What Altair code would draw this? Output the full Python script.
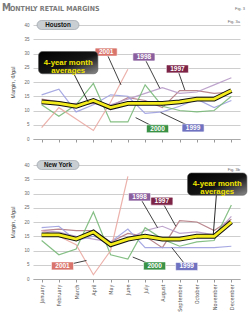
import altair as alt
import pandas as pd

MONTHS = ["January", "February", "March", "April", "May", "June", "July",
          "August", "September", "October", "November", "December"]
YEARS = ["1997", "1998", "1999", "2000", "2001"]

# Houston margins, cents/gal
HOU_1997 = [14, 13, 12, 12.5, 11.5, 14.5, 13.5, 11, 17, 17, 16, 16.5]
HOU_1998 = [13, 12, 12.5, 13, 12, 14, 16, 18, 16, 16.5, 19, 21.5]
HOU_1999 = [15.5, 17.5, 9.5, 12, 15.5, 15, 9, 9.5, 11.5, 14, 11, 13.5]
HOU_2000 = [12, 8, 12, 19.5, 6, 6, 19, 11.5, 10, 9.5, 10, 15]
HOU_2001 = [4, 11, 7, 3, 13, 24.5]
HOU_AVG = [13, 12.5, 11.5, 13.5, 11, 12.5, 12.5, 12.5, 13, 14, 14, 17]

# New York margins, cents/gal
NY_1997 = [17, 17.5, 17, 17, 13, 16, 15, 11, 20.5, 20, 17, 21]
NY_1998 = [17, 16.5, 15, 14, 13, 14, 17, 18.5, 16, 16.5, 15.5, 22]
NY_1999 = [18, 18.5, 13.5, 15, 13, 17.5, 11, 11, 11, 11, 11, 11.5]
NY_2000 = [13.5, 8.5, 10.5, 23.5, 8.5, 7, 18, 14, 11.5, 13, 13.5, 26]
NY_2001 = [17, 15, 12, 1.5, 10, 36]
NY_AVG = [15.5, 15.5, 14, 16.5, 12, 14, 15, 14, 14, 15, 15, 20]

LINE_COLORS = ["#b27a82", "#b79ac8", "#9da0e0", "#78b878", "#eaa9a2"]
BOX_COLORS = {"1997": "#7c2346", "1998": "#8b5f9e", "1999": "#6f72c0",
              "2000": "#3a9247", "2001": "#d8746b"}

# annotation anchors (month index, value) -> label centre and pointer end
HOU_LABELS = [("2001", 3.74, 30.5, 4.6, 19.0), ("1998", 5.93, 28.8, 6.85, 17.8),
              ("1997", 7.87, 24.6, 8.3, 17.2), ("2000", 6.72, 3.6, 5.45, 7.5),
              ("1999", 8.78, 3.9, 6.9, 9.3)]
NY_LABELS = [("2001", 1.21, 4.6, 2.6, 6.5), ("1998", 5.68, 28.8, 6.72, 18.0),
             ("1997", 6.97, 27.3, 7.78, 18.5), ("2000", 6.55, 4.6, 5.28, 7.7),
             ("1999", 8.41, 4.4, 7.55, 11.0)]
HOU_CALLOUT = (1.54, 26.8, 2.7, 13.0)
NY_CALLOUT = (10.18, 33.3, 9.95, 15.5)

NARROW = "Liberation Sans Narrow, DejaVu Sans Condensed, sans-serif"
SANS = "Liberation Sans, Arial, sans-serif"

xscale = alt.Scale(domain=[-0.5, 11.5], nice=False, zero=False)
yscale = alt.Scale(domain=[0, 40], nice=False)
label_expr = "[" + ",".join("'%s'" % m for m in MONTHS) + "][datum.value]"

xaxis_top = alt.Axis(values=list(range(12)), labels=False, ticks=True, tickSize=3,
                     tickColor="#999999", domain=True, domainColor="#aaaaaa",
                     grid=False, title=None)
xaxis_bottom = alt.Axis(values=list(range(12)), labelExpr=label_expr, labelAngle=270,
                        labelFontSize=5.5, labelFont=NARROW, labelColor="#555555",
                        labelPadding=2, ticks=True, tickSize=3, tickColor="#999999",
                        domain=True, domainColor="#aaaaaa", grid=False, title=None)
yaxis = alt.Axis(values=list(range(0, 41, 5)), grid=True, gridColor="#c8c8c8",
                 gridWidth=0.9, domain=False, ticks=False, labelFontSize=4.5,
                 labelFont=SANS, labelColor="#666666", labelPadding=4,
                 title="Margin, ¢/gal", titleFontSize=5.5, titleFont=SANS,
                 titleFontWeight="normal", titleColor="#444444", titlePadding=8)

HW_BOX, HH_BOX = 0.64, 1.4


def panel(series, avg, labels, callout, city, fig, xaxis, top):
    rows = []
    for y, vals in zip(YEARS, series):
        for i, v in enumerate(vals):
            rows.append({"year": y, "m": i, "v": v})
    df = pd.DataFrame(rows)
    adf = pd.DataFrame({"m": list(range(12)), "v": avg})

    X = lambda f: alt.X(f"{f}:Q", scale=xscale, axis=xaxis)
    Y = lambda f: alt.Y(f"{f}:Q", scale=yscale, axis=yaxis)

    lines = alt.Chart(df).mark_line(strokeWidth=1.2, opacity=0.9).encode(
        x=X("m"), y=Y("v"),
        color=alt.Color("year:N", scale=alt.Scale(domain=YEARS, range=LINE_COLORS), legend=None),
    )
    avg_out = alt.Chart(adf).mark_line(color="#111111", strokeWidth=4.8).encode(x=X("m"), y=Y("v"))
    avg_in = alt.Chart(adf).mark_line(color="#f4ec1c", strokeWidth=2.8).encode(x=X("m"), y=Y("v"))

    ldf = pd.DataFrame([{"t": t, "cx": cx, "cy": cy, "px": px, "py": py,
                         "x1": cx - HW_BOX, "x2": cx + HW_BOX,
                         "y1": cy - HH_BOX, "y2": cy + HH_BOX} for t, cx, cy, px, py in labels])
    ccx, ccy, cpx, cpy = callout
    hw_c, hh_c = 1.72, 3.9
    cdf = pd.DataFrame([{"cx": ccx, "cy": ccy, "px": cpx, "py": cpy,
                         "x1": ccx - hw_c, "x2": ccx + hw_c, "y1": ccy - hh_c, "y2": ccy + hh_c,
                         "t": "4-year month\naverages"}])

    pointers = alt.Chart(ldf).mark_rule(color="#111111", strokeWidth=0.8).encode(
        x=X("cx"), y=Y("cy"), x2="px:Q", y2="py:Q")
    cpointer = alt.Chart(cdf).mark_rule(color="#111111", strokeWidth=0.9).encode(
        x=X("cx"), y=Y("cy"), x2="px:Q", y2="py:Q")
    boxes = alt.Chart(ldf).mark_rect(cornerRadius=1, stroke="white", strokeWidth=0.6).encode(
        x=X("x1"), x2="x2:Q", y=Y("y1"), y2="y2:Q",
        fill=alt.Color("t:N", scale=alt.Scale(domain=list(BOX_COLORS.keys()),
                                               range=list(BOX_COLORS.values())), legend=None))
    btext = alt.Chart(ldf).mark_text(color="white", fontWeight="bold", fontSize=6.5,
                                     font=SANS, baseline="middle").encode(
        x=X("cx"), y=Y("cy"), text="t:N")
    grad = alt.LinearGradient(gradient="linear", x1=0, y1=0, x2=1, y2=1,
                              stops=[alt.GradientStop(color="#000000", offset=0),
                                     alt.GradientStop(color="#151515", offset=0.55),
                                     alt.GradientStop(color="#8a8a8a", offset=1)])
    cbox = alt.Chart(cdf).mark_rect(cornerRadius=4, fill=grad, stroke="#555555",
                                    strokeWidth=0.6).encode(
        x=X("x1"), x2="x2:Q", y=Y("y1"), y2="y2:Q")
    ctext = alt.Chart(cdf).mark_text(color="#f2e600", fontWeight="bold", fontSize=7.8,
                                     font=SANS, lineBreak="\n", baseline="middle",
                                     lineHeight=8).encode(
        x=X("cx"), y=Y("cy"), text="t:N")

    one = pd.DataFrame({"t": [city]})
    pill = alt.Chart(one).mark_rect(cornerRadius=4.5, fill="#c9ced3", stroke="#8f979e",
                                    strokeWidth=0.6).encode(
        x=alt.value(4), x2=alt.value(46), y=alt.value(-4.5), y2=alt.value(4.5))
    pill_t = alt.Chart(one).mark_text(fontWeight="bold", fontSize=6.3, font=SANS,
                                      color="#111111", baseline="middle").encode(
        x=alt.value(25), y=alt.value(0.3), text="t:N")
    fig_t = alt.Chart(pd.DataFrame({"t": [fig]})).mark_text(
        fontSize=4, font=SANS, color="#666666", align="right", baseline="middle").encode(
        x=alt.value(207), y=alt.value(-3 if top else 5), text="t:N")

    layers = [lines, avg_out, avg_in, pointers, cpointer, boxes, btext, cbox, ctext,
              pill, pill_t, fig_t]
    if top:
        tdf = pd.DataFrame({"a": ["M"], "b": ["ONTHLY RETAIL MARGINS"], "f": ["Fig. 3"]})
        layers += [
            alt.Chart(tdf).mark_text(fontSize=10, font=NARROW, fontWeight="bold",
                                     color="#7a7a7a", align="left", baseline="alphabetic").encode(
                x=alt.value(-31), y=alt.value(-14), text="a:N"),
            alt.Chart(tdf).mark_text(fontSize=7, font=NARROW, fontWeight="bold",
                                     color="#7a7a7a", align="left", baseline="alphabetic").encode(
                x=alt.value(-23), y=alt.value(-14), text="b:N"),
            alt.Chart(tdf).mark_text(fontSize=4, font=SANS, color="#666666",
                                     align="right", baseline="middle").encode(
                x=alt.value(212), y=alt.value(-16), text="f:N"),
        ]
    return alt.layer(*layers).properties(width=207, height=114)


hou = panel([HOU_1997, HOU_1998, HOU_1999, HOU_2000, HOU_2001], HOU_AVG, HOU_LABELS,
            HOU_CALLOUT, "Houston", "Fig. 3a", xaxis_top, True)
ny = panel([NY_1997, NY_1998, NY_1999, NY_2000, NY_2001], NY_AVG, NY_LABELS,
           NY_CALLOUT, "New York", "Fig. 3b", xaxis_bottom, False)

chart = alt.vconcat(hou, ny, spacing=26, bounds="flush").resolve_scale(
    color="independent").configure_view(stroke=None).properties(
    padding={"left": 2, "top": 3, "right": 2, "bottom": 0}, background="white")

chart.save("out.html", embed_options={"renderer": "svg", "actions": False})
